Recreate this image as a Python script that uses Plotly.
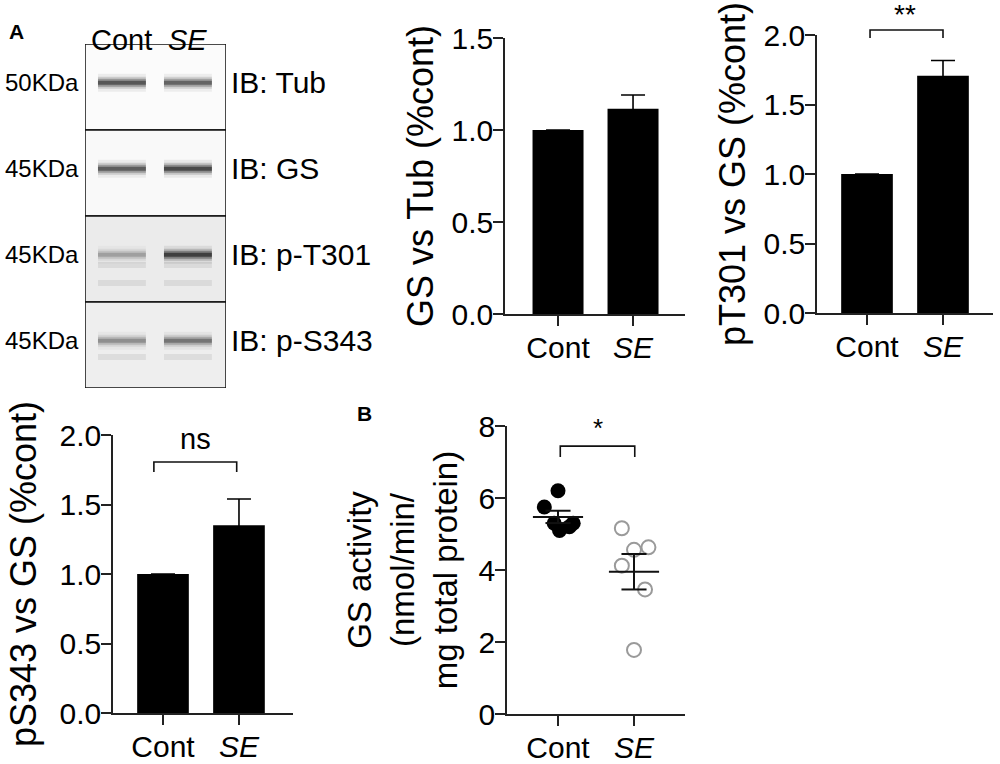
import plotly.graph_objects as go

# ---------------- data ----------------
groups = ["Cont", "SE"]
group_ticktext = ["Cont", "<i>SE</i>"]

gs_tub_mean = [1.0, 1.115]
gs_tub_sem = [0.0, 0.075]

pt301_mean = [1.0, 1.707]
pt301_sem = [0.0, 0.11]

ps343_mean = [1.0, 1.35]
ps343_sem = [0.0, 0.19]

gs_activity_cont = [6.2, 5.75, 5.3, 5.2, 5.1, 5.3]
gs_activity_se = [5.16, 4.56, 4.63, 4.12, 3.46, 1.78]

blot_labels = ["IB: Tub", "IB: GS", "IB: p-T301", "IB: p-S343"]
blot_mw = ["50KDa", "45KDa", "45KDa", "45KDa"]
band_cont = [0.85, 0.8, 0.35, 0.45]
band_se = [0.75, 0.95, 1.0, 0.6]

# ---------------- style ----------------
FONT = "Arial, Liberation Sans, Helvetica, sans-serif"
AX = "#222222"
W, H = 1000, 764

def px(x):
    return x / W

def py(y):
    return 1 - y / H

cont_jitter = [0.0, -0.18, -0.05, 0.15, 0.02, 0.2]
se_jitter = [-0.16, 0.0, 0.19, -0.16, 0.145, 0.0]

fig = go.Figure()

# ---------- bar panels ----------
def bar_panel(xa, ya, means, sems):
    fig.add_trace(go.Bar(
        x=[0, 1], y=means, width=0.68,
        marker=dict(color="black", line=dict(width=0)),
        error_y=dict(type="data", array=sems, visible=True, color="black",
                     thickness=1.6, width=12),
        xaxis=xa, yaxis=ya, showlegend=False, hoverinfo="skip"))

bar_panel("x", "y", gs_tub_mean, gs_tub_sem)
bar_panel("x2", "y2", pt301_mean, pt301_sem)
bar_panel("x3", "y3", ps343_mean, ps343_sem)

# ---------- scatter panel B ----------
fig.add_trace(go.Scatter(
    x=[0 + j for j in cont_jitter], y=gs_activity_cont, mode="markers",
    marker=dict(color="black", size=15, line=dict(width=0)),
    xaxis="x4", yaxis="y4", showlegend=False, cliponaxis=False))
fig.add_trace(go.Scatter(
    x=[1 + j for j in se_jitter], y=gs_activity_se, mode="markers",
    marker=dict(color="#9a9a9a", size=14, symbol="circle-open", line=dict(width=2)),
    xaxis="x4", yaxis="y4", showlegend=False, cliponaxis=False))

def mean_sem(vals):
    n = len(vals)
    m = sum(vals) / n
    sd = (sum((v - m) ** 2 for v in vals) / (n - 1)) ** 0.5
    return m, sd / n ** 0.5

for gi, vals in enumerate([gs_activity_cont, gs_activity_se]):
    m, s = mean_sem(vals)
    xs = [gi - 0.33, gi + 0.33, None, gi, gi, None,
          gi - 0.165, gi + 0.165, None, gi - 0.165, gi + 0.165]
    ys = [m, m, None, m - s, m + s, None, m + s, m + s, None, m - s, m - s]
    fig.add_trace(go.Scatter(x=xs, y=ys, mode="lines",
                             line=dict(color="#111111", width=2),
                             xaxis="x4", yaxis="y4", showlegend=False,
                             hoverinfo="skip"))

# ---------- significance brackets ----------
def bracket(xa, ya, x0, x1, ytop, ybot, label, ylab, xlab, size):
    fig.add_trace(go.Scatter(
        x=[x0, x0, x1, x1], y=[ybot, ytop, ytop, ybot], mode="lines",
        line=dict(color="#111111", width=1.6), xaxis=xa, yaxis=ya,
        showlegend=False, cliponaxis=False, hoverinfo="skip"))
    fig.add_annotation(x=xlab, y=ylab, xref=xa, yref=ya, text=label,
                       showarrow=False, font=dict(family=FONT, size=size, color="black"))

# panel 2 bracket sits above the axis top -> drawn on an invisible companion axis
bracket("x6", "y6", 0.04, 1.0, 2.036, 1.978, "**", 2.15, 0.5, 28)
bracket("x3", "y3", -0.12, 0.97, 1.806, 1.734, "ns", 1.97, 0.43, 29)
bracket("x4", "y4", 0.03, 1.01, 7.44, 7.14, "*", 7.95, 0.52, 26)

# ---------- western blot ----------
lane_x = [0.262, 0.73]
band_half = 0.17
row_fill = ["#fbfbfb", "#f9f9f9", "#ebebeb", "#eeeeee"]
for r in range(4):
    fig.add_shape(type="rect", xref="x5", yref="y5", x0=0, x1=1, y0=r, y1=r + 1,
                  fillcolor=row_fill[r], line=dict(color="#111111", width=1.5),
                  layer="below")

faint = {2: [0.57, 0.78], 3: [0.64]}
for r in range(4):
    yc = r + 0.45
    for li, inten in enumerate([band_cont[r], band_se[r]]):
        xc = lane_x[li]
        xs = [xc - band_half, xc + band_half]
        for off in faint.get(r, []):
            fig.add_trace(go.Scatter(x=xs, y=[r + off, r + off], mode="lines",
                                     line=dict(color="rgba(0,0,0,0.07)", width=6),
                                     xaxis="x5", yaxis="y5", showlegend=False,
                                     hoverinfo="skip"))
        for wd, a in [(18, 0.07), (12, 0.16), (8, 0.3), (4, 0.5)]:
            fig.add_trace(go.Scatter(
                x=xs, y=[yc, yc], mode="lines",
                line=dict(color=f"rgba(0,0,0,{inten * a:.3f})", width=wd),
                xaxis="x5", yaxis="y5", showlegend=False, hoverinfo="skip"))
    fig.add_annotation(x=px(81), y=yc, xref="paper", yref="y5", text=blot_mw[r],
                       xanchor="right", showarrow=False,
                       font=dict(family=FONT, size=24, color="black"))
    fig.add_annotation(x=px(229), y=yc, xref="paper", yref="y5", text=blot_labels[r],
                       xanchor="left", showarrow=False,
                       font=dict(family=FONT, size=30, color="black"))

for li, t in enumerate(group_ticktext):
    fig.add_annotation(x=lane_x[li], y=py(22), xref="x5", yref="paper", text=t,
                       showarrow=False, font=dict(family=FONT, size=29, color="black"))

fig.add_annotation(x=px(7), y=py(18), xref="paper", yref="paper", text="<b>A</b>",
                   xanchor="left", showarrow=False, font=dict(family=FONT, size=21, color="black"))
fig.add_annotation(x=px(355), y=py(413), xref="paper", yref="paper", text="<b>B</b>",
                   xanchor="left", showarrow=False, font=dict(family=FONT, size=21, color="black"))

# ---------- axes ----------
def xaxis(dom, rng, anchor):
    return dict(domain=dom, range=rng, tickvals=[0, 1], ticktext=group_ticktext,
                showline=True, linecolor=AX, linewidth=1.5, ticks="outside",
                ticklen=10, tickwidth=1.5, tickcolor=AX, showgrid=False, zeroline=False,
                tickfont=dict(family=FONT, size=30, color="black"), anchor=anchor,
                ticklabelstandoff=-4,
                automargin=False, fixedrange=True)

def yaxis(dom, rng, dtick, fmt, title, anchor, tsize=36, standoff=7):
    return dict(domain=dom, range=rng, dtick=dtick, tick0=0, tickformat=fmt,
                showline=True, linecolor=AX, linewidth=1.5, ticks="outside",
                ticklen=10, tickwidth=1.5, tickcolor=AX, showgrid=False, zeroline=False,
                tickfont=dict(family=FONT, size=30, color="black"), anchor=anchor,
                ticklabelstandoff=-6,
                automargin=False, fixedrange=True,
                title=dict(text=title, font=dict(family=FONT, size=tsize, color="black"),
                           standoff=standoff))

hidden = dict(visible=False, automargin=False, fixedrange=True, showgrid=False,
              zeroline=False)

y2_top_px, y2_zero_px = 35, 313
fig.update_layout(
    template="none",
    width=W, height=H, margin=dict(l=0, r=0, t=0, b=0, autoexpand=False),
    paper_bgcolor="white", plot_bgcolor="rgba(0,0,0,0)", showlegend=False,
    font=dict(family=FONT, color="black"),
    xaxis=xaxis([px(505), px(685)], [-0.707, 1.693], "y"),
    yaxis=yaxis([py(314), py(38)], [0, 1.5], 0.5, ".1f", "GS vs Tub (%cont)", "x"),
    xaxis2=xaxis([px(817), px(993)], [-0.658, 1.658], "y2"),
    yaxis2=yaxis([py(y2_zero_px), py(y2_top_px)], [0, 2.0], 0.5, ".1f",
                 "pT301 vs GS (%cont)", "x2"),
    xaxis3=xaxis([px(113), px(293)], [-0.658, 1.711], "y3"),
    yaxis3=yaxis([py(713), py(435)], [0, 2.0], 0.5, ".1f", "pS343 vs GS (%cont)", "x3",
                 36, 12),
    xaxis4=xaxis([px(507), px(685)], [-0.671, 1.671], "y4"),
    yaxis4=yaxis([py(714), py(426)], [0, 8], 2, "d",
                 "GS activity<br>(nmol/min/<br>mg total protein)", "x4", 33, 11),
    xaxis5=dict(domain=[px(85), px(226)], range=[0, 1], anchor="y5", **hidden),
    yaxis5=dict(domain=[py(388), py(44)], range=[4, 0], anchor="x5", **hidden),
    xaxis6=dict(domain=[px(817), px(993)], range=[-0.658, 1.658], anchor="y6", **hidden),
    yaxis6=dict(domain=[py(y2_zero_px), 1.0],
                range=[0, 2.0 * y2_zero_px / (y2_zero_px - y2_top_px)],
                anchor="x6", **hidden),
)

fig.write_html("out.html", config={"displayModeBar": False},
               post_script="document.body.style.margin='0';document.body.style.overflow='hidden';")
